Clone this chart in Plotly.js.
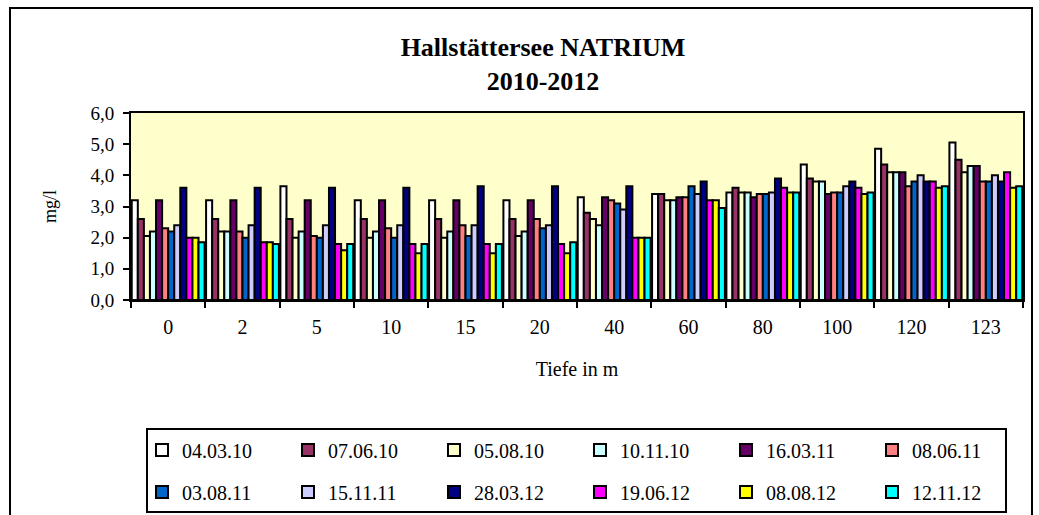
<!DOCTYPE html>
<html>
<head>
<meta charset="utf-8">
<script src="https://cdn.plot.ly/plotly-3.0.1.min.js"></script>
<style>
html,body{margin:0;padding:0;background:#fff;}
#chart{width:1039px;height:515px;}
</style>
</head>
<body>
<div id="chart"></div>
<script>
const depths = ["0","2","5","10","15","20","40","60","80","100","120","123"];
const seriesNames = ["04.03.10","07.06.10","05.08.10","10.11.10","16.03.11","08.06.11",
                     "03.08.11","15.11.11","28.03.12","19.06.12","08.08.12","12.11.12"];
const s_040310 = [3.2, 3.2, 3.65, 3.2, 3.2, 3.2, 3.3, 3.4, 3.45, 4.35, 4.85, 5.05];
const s_070610 = [2.6, 2.6, 2.6, 2.6, 2.6, 2.6, 2.8, 3.4, 3.6, 3.9, 4.35, 4.5];
const s_050810 = [2.05, 2.2, 2.0, 2.0, 2.0, 2.05, 2.6, 3.2, 3.45, 3.8, 4.1, 4.1];
const s_101110 = [2.2, 2.2, 2.2, 2.2, 2.2, 2.2, 2.4, 3.2, 3.45, 3.8, 4.1, 4.3];
const s_160311 = [3.2, 3.2, 3.2, 3.2, 3.2, 3.2, 3.3, 3.3, 3.3, 3.4, 4.1, 4.3];
const s_080611 = [2.3, 2.2, 2.05, 2.3, 2.4, 2.6, 3.2, 3.3, 3.4, 3.45, 3.65, 3.8];
const s_030811 = [2.2, 2.0, 2.0, 2.0, 2.05, 2.3, 3.1, 3.65, 3.4, 3.45, 3.8, 3.8];
const s_151111 = [2.4, 2.4, 2.4, 2.4, 2.4, 2.4, 2.9, 3.4, 3.45, 3.65, 4.0, 4.0];
const s_280312 = [3.6, 3.6, 3.6, 3.6, 3.65, 3.65, 3.65, 3.8, 3.9, 3.8, 3.8, 3.8];
const s_190612 = [2.0, 1.85, 1.8, 1.8, 1.8, 1.8, 2.0, 3.2, 3.6, 3.6, 3.8, 4.1];
const s_080812 = [2.0, 1.85, 1.6, 1.5, 1.5, 1.5, 2.0, 3.2, 3.45, 3.4, 3.6, 3.6];
const s_121112 = [1.85, 1.8, 1.8, 1.8, 1.8, 1.85, 2.0, 2.95, 3.45, 3.45, 3.65, 3.65];
const seriesValues = [s_040310, s_070610, s_050810, s_101110, s_160311, s_080611,
                      s_030811, s_151111, s_280312, s_190612, s_080812, s_121112];
const seriesColors = ["#FFFFFF","#993366","#FFFFCC","#CCFFFF","#660066","#FF8080",
                      "#0066CC","#CCCCFF","#000080","#FF00FF","#FFFF00","#00FFFF"];

const serif = "Liberation Serif, Times New Roman, serif";

const traces = seriesNames.map((name, i) => ({
  type: "bar",
  name: name,
  x: depths,
  y: seriesValues[i],
  marker: {color: seriesColors[i], line: {color: "#000000", width: 2}},
  legend: i < 6 ? "legend" : "legend2",
  hoverinfo: "name+y"
}));

// pixel helpers for plot area
const L = 131, R = 16, T = 113, B = 215, W = 1039, H = 515;
const pw = W - L - R, ph = H - T - B;
const px = v => (v - L) / pw;
const py = v => (H - B - v) / ph;

const legendCommon = {
  orientation: "h",
  xanchor: "left",
  yanchor: "middle",
  font: {family: serif, size: 20, color: "#000"},
  bgcolor: "rgba(0,0,0,0)",
  borderwidth: 0,
  entrywidth: 101,
  entrywidthmode: "pixels",
  itemclick: false,
  itemdoubleclick: false
};

const layout = {
  width: W, height: H,
  margin: {l: L, r: R, t: T, b: B, pad: 0, autoexpand: false},
  paper_bgcolor: "#FFFFFF",
  plot_bgcolor: "#FFFFCC",
  separators: ",.",
  barmode: "group",
  bargap: 0.02,
  bargroupgap: 0,
  showlegend: true,
  title: {
    text: "Hallstättersee NATRIUM<br>2010-2012",
    font: {family: serif, size: 26, color: "#000", weight: "bold"},
    x: 543 / W, xref: "container", xanchor: "center",
    y: 1 - 56 / H, yref: "container", yanchor: "middle"
  },
  xaxis: {
    type: "category",
    automargin: false,
    tickson: "boundaries",
    ticks: "outside", ticklen: 6, tickwidth: 2, tickcolor: "#000",
    ticklabelstandoff: 8,
    showline: true, mirror: true, linecolor: "#000", linewidth: 2,
    showgrid: false, zeroline: false,
    tickfont: {family: serif, size: 20, color: "#000"},
    title: {text: "Tiefe in m", font: {family: serif, size: 20, color: "#000"}, standoff: 25}
  },
  yaxis: {
    range: [0, 6], dtick: 1, tick0: 0, tickformat: ".1f",
    automargin: false,
    ticks: "outside", ticklen: 6, tickwidth: 2, tickcolor: "#000",
    ticklabelstandoff: 5,
    showline: true, mirror: true, linecolor: "#000", linewidth: 2,
    showgrid: false, zeroline: false,
    tickfont: {family: serif, size: 19, color: "#000"},
    title: {text: "mg/l", font: {family: serif, size: 18, color: "#000"}, standoff: 29}
  },
  legend: Object.assign({}, legendCommon, {x: px(142), y: py(450)}),
  legend2: Object.assign({}, legendCommon, {x: px(142), y: py(492)}),
  shapes: [
    {type: "rect", xref: "paper", yref: "paper", layer: "below",
     x0: px(10), x1: px(1032), y0: py(540), y1: py(8),
     line: {color: "#000", width: 2}, fillcolor: "rgba(0,0,0,0)"},
    {type: "rect", xref: "paper", yref: "paper", layer: "below",
     x0: px(147), x1: px(1006), y0: py(512), y1: py(429),
     line: {color: "#000", width: 2}, fillcolor: "rgba(0,0,0,0)"}
  ]
};

Plotly.newPlot("chart", traces, layout, {displayModeBar: false});
</script>
</body>
</html>
